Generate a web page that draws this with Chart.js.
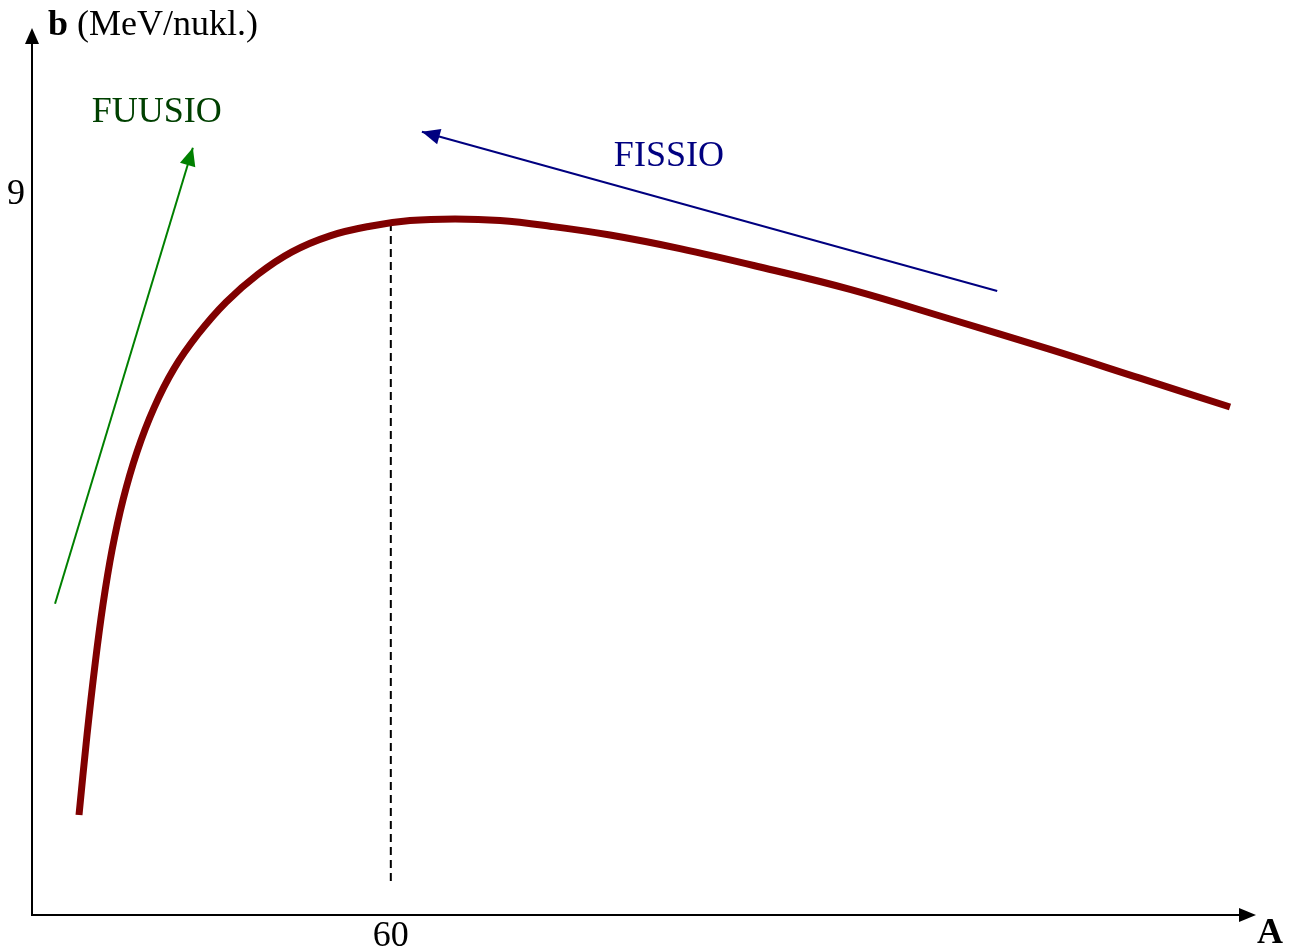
<!DOCTYPE html>
<html>
<head>
<meta charset="utf-8">
<title>Sidosenergia</title>
<script src="https://cdn.jsdelivr.net/npm/chart.js@4.4.1/dist/chart.umd.min.js"></script>
<style>
    html, body { margin: 0; padding: 0; background: #fff; }
    #wrap { width: 1289px; height: 946px; }
</style>
</head>
<body>
<div id="wrap"><canvas id="chart"></canvas></div>
<script>
// binding energy per nucleon curve
const massNumbers = [7.86, 9.2, 10.54, 11.87, 13.38, 15.22, 17.56, 20.4, 23.75, 27.76, 32.44, 37.79, 43.48, 49.83, 56.52, 63.21, 70.74, 78.26, 86.62, 96.66, 108.36, 121.74, 136.79, 153.51, 170.23, 185.28, 200.33];
const bindingEnergy = [1.25, 2.25, 3.13, 3.88, 4.56, 5.19, 5.79, 6.34, 6.83, 7.26, 7.66, 8.01, 8.29, 8.49, 8.61, 8.68, 8.70, 8.68, 8.61, 8.50, 8.33, 8.10, 7.82, 7.45, 7.07, 6.71, 6.35];

// dashed marker at A = 60
const markerA = [60, 60];
const markerB = [8.65, 0.42];

// arrows: [start, tip]
const fusionA = [3.85, 26.9];
const fusionB = [3.89, 9.59];
const fissionA = [161.4, 65.2];
const fissionB = [7.8, 9.79];

const xTicks = [60];
const yTicks = [9];

const arrowLabels = ['FUUSIO', 'FISSIO'];
const labelA = [10.0, 97.3];
const labelB = [9.91, 9.36];

const serif = "'Liberation Serif', 'Times New Roman', serif";

function toPoints(xs, ys) {
    return xs.map((x, i) => ({ x: x, y: ys[i] }));
}

const arrowPlugin = {
    id: 'arrows',
    afterDatasetsDraw(chart) {
        const ctx = chart.ctx;
        chart.data.datasets.forEach((ds, i) => {
            if (!ds.arrowHead) return;
            const pts = chart.getDatasetMeta(i).data;
            const a = pts[pts.length - 2], b = pts[pts.length - 1];
            const ang = Math.atan2(b.y - a.y, b.x - a.x);
            const len = 18, half = 8;
            ctx.save();
            ctx.fillStyle = ds.borderColor;
            ctx.beginPath();
            ctx.moveTo(b.x, b.y);
            ctx.lineTo(b.x - len * Math.cos(ang) + half * Math.sin(ang), b.y - len * Math.sin(ang) - half * Math.cos(ang));
            ctx.lineTo(b.x - len * Math.cos(ang) - half * Math.sin(ang), b.y - len * Math.sin(ang) + half * Math.cos(ang));
            ctx.closePath();
            ctx.fill();
            ctx.restore();
        });
    },
    afterDraw(chart) {
        const ctx = chart.ctx;
        const area = chart.chartArea;
        const xs = chart.scales.x, ys = chart.scales.y;
        ctx.save();
        // axis arrow heads
        ctx.fillStyle = '#000';
        ctx.beginPath();
        ctx.moveTo(area.left, area.top - 15);
        ctx.lineTo(area.left - 7, area.top + 1);
        ctx.lineTo(area.left + 7, area.top + 1);
        ctx.closePath();
        ctx.fill();
        ctx.beginPath();
        ctx.moveTo(area.right + 16, area.bottom);
        ctx.lineTo(area.right - 1, area.bottom - 7);
        ctx.lineTo(area.right - 1, area.bottom + 7);
        ctx.closePath();
        ctx.fill();

        // axis titles
        ctx.textBaseline = 'alphabetic';
        ctx.textAlign = 'left';
        ctx.fillStyle = '#000';
        ctx.font = 'bold 36px ' + serif;
        ctx.fillText('b', area.left + 16, 35);
        const bw = ctx.measureText('b ').width;
        ctx.font = '36px ' + serif;
        ctx.fillText('(MeV/nukl.)', area.left + 16 + bw, 35);
        ctx.font = 'bold 36px ' + serif;
        ctx.fillText('A', area.right + 17, 943);

        // arrow labels
        const colors = ['#004000', '#000080'];
        ctx.font = '36px ' + serif;
        arrowLabels.forEach((t, i) => {
            ctx.fillStyle = colors[i];
            ctx.fillText(t, xs.getPixelForValue(labelA[i]), ys.getPixelForValue(labelB[i]));
        });
        ctx.restore();
    }
};

new Chart(document.getElementById('chart'), {
    type: 'line',
    data: {
        datasets: [
            {
                data: toPoints(massNumbers, bindingEnergy),
                borderColor: '#800000',
                borderWidth: 7,
                tension: 0.4,
                pointRadius: 0,
                borderCapStyle: 'butt'
            },
            {
                data: toPoints(markerA, markerB),
                borderColor: '#000',
                borderWidth: 2,
                borderDash: [8, 5],
                pointRadius: 0
            },
            {
                data: toPoints(fusionA, fusionB),
                borderColor: '#008000',
                borderWidth: 2,
                pointRadius: 0,
                arrowHead: true
            },
            {
                data: toPoints(fissionA, fissionB),
                borderColor: '#000080',
                borderWidth: 2,
                pointRadius: 0,
                arrowHead: true
            }
        ]
    },
    options: {
        responsive: true,
        maintainAspectRatio: false,
        animation: false,
        layout: { padding: { top: 43, right: 49, left: 0, bottom: 0 } },
        plugins: {
            legend: { display: false },
            tooltip: { enabled: false }
        },
        scales: {
            x: {
                type: 'linear',
                min: 0,
                max: 202,
                grid: { display: false, drawTicks: false },
                border: { display: true, color: '#000', width: 2 },
                afterBuildTicks: (scale) => { scale.ticks = xTicks.map(v => ({ value: v })); },
                afterFit: (scale) => { scale.height = 31; },
                ticks: {
                    color: '#000',
                    padding: 0,
                    maxRotation: 0,
                    autoSkip: false,
                    font: { family: serif, size: 36 }
                }
            },
            y: {
                type: 'linear',
                min: 0,
                max: 10.9,
                grid: { display: false, drawTicks: false },
                border: { display: true, color: '#000', width: 2 },
                afterBuildTicks: (scale) => { scale.ticks = yTicks.map(v => ({ value: v })); },
                afterFit: (scale) => { scale.width = 32; },
                ticks: {
                    color: '#000',
                    padding: 7,
                    autoSkip: false,
                    font: { family: serif, size: 36 }
                }
            }
        }
    },
    plugins: [arrowPlugin]
});
</script>
</body>
</html>
